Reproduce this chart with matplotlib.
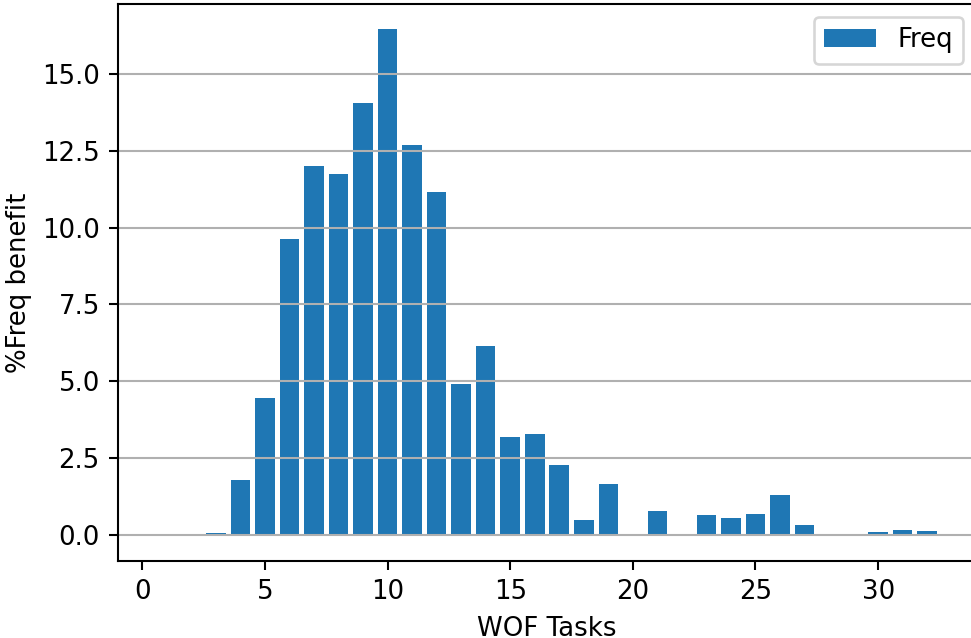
"""WOF task count vs %Freq benefit, bar chart."""

import matplotlib

matplotlib.use("Agg")
import matplotlib.pyplot as plt
import numpy as np

DPI = 187
FIG_W_PX, FIG_H_PX = 971, 638

# number of WOF tasks and the %Freq benefit
TASKS = np.arange(1, 33)
FREQ_BENEFIT = [
    0.0, -0.03, 0.07, 1.77, 4.46, 9.61, 12.01, 11.75, 14.05, 16.45,
    12.69, 11.16, 4.9, 6.15, 3.18, 3.29, 2.26, 0.47, 1.66, 0.0,
    0.77, 0.0, 0.65, 0.56, 0.69, 1.30, 0.33, 0.03, 0.0, 0.09,
    0.17, 0.12,
]


def main() -> None:
    fig = plt.figure(figsize=(FIG_W_PX / DPI, FIG_H_PX / DPI), dpi=DPI)
    ax = fig.add_axes([118 / FIG_W_PX, 1 - 561 / FIG_H_PX, 858 / FIG_W_PX, 557 / FIG_H_PX])

    ax.bar(TASKS, FREQ_BENEFIT, width=0.8, color="#1f77b4", label="Freq")
    ax.yaxis.grid(True)
    ax.set_xlabel("WOF Tasks")
    ax.set_ylabel("%Freq benefit")
    ax.legend(loc="upper right")

    fig.savefig("out.png", dpi=DPI)


if __name__ == "__main__":
    main()
